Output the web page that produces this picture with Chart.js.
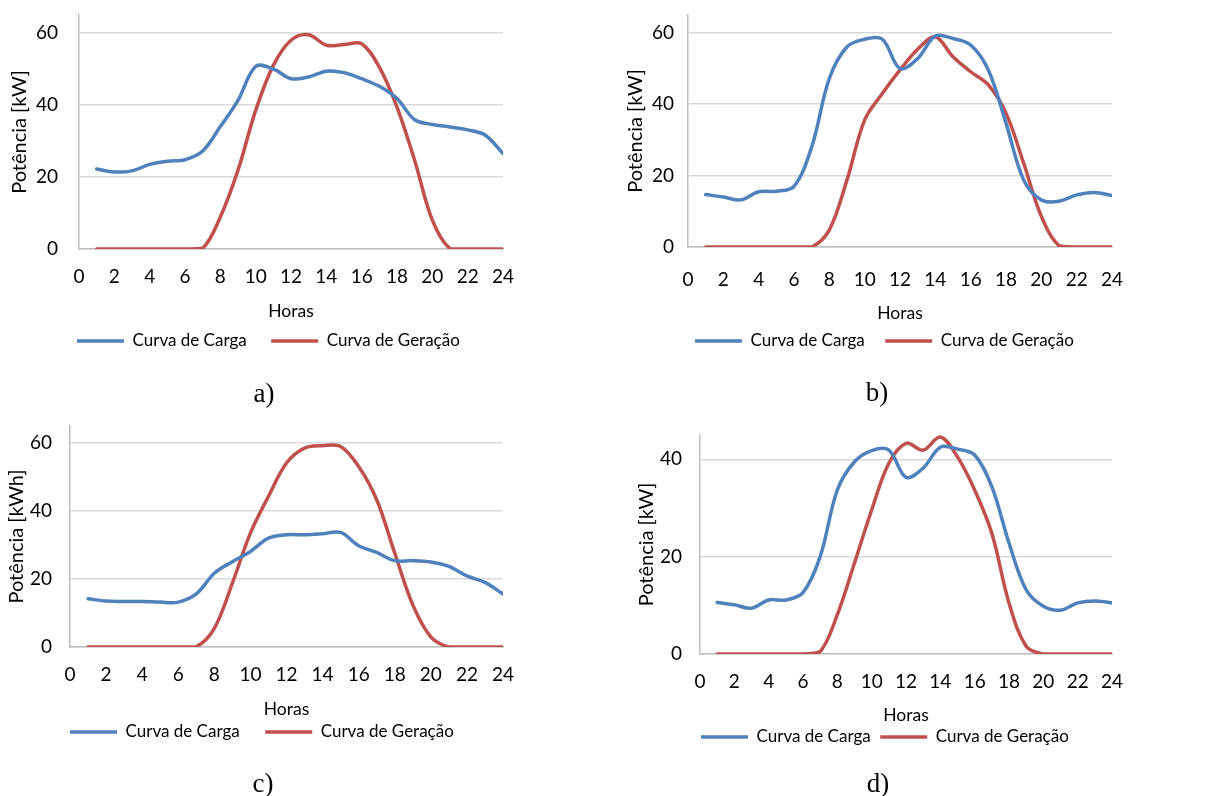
<!DOCTYPE html>
<html>
<head>
<meta charset="utf-8">
<script src="https://cdn.jsdelivr.net/npm/chart.js@4.4.1/dist/chart.umd.min.js"></script>
<style>
    html, body { margin: 0; padding: 0; background: #fff; }
    body { width: 1213px; height: 796px; position: relative; overflow: hidden; }
    canvas { position: absolute; left: 0; top: 0; pointer-events: none; }
    .rotulo { position: absolute; font-family: "Liberation Serif", "Times New Roman", serif; font-size: 27px; color: #000; transform: translate(-50%, -50%); }
</style>
</head>
<body>
<canvas id="graficoA" width="1213" height="796"></canvas>
<canvas id="graficoB" width="1213" height="796"></canvas>
<canvas id="graficoC" width="1213" height="796"></canvas>
<canvas id="graficoD" width="1213" height="796"></canvas>

<div class="rotulo" style="left:264px; top:393px;">a)</div>
<div class="rotulo" style="left:877px; top:392px;">b)</div>
<div class="rotulo" style="left:263px; top:783px;">c)</div>
<div class="rotulo" style="left:878px; top:783px;">d)</div>

<script>
// dados (hora 1 a 24)
var horas = [1, 2, 3, 4, 5, 6, 7, 8, 9, 10, 11, 12, 13, 14, 15, 16, 17, 18, 19, 20, 21, 22, 23, 24];
var xTicks = [0, 2, 4, 6, 8, 10, 12, 14, 16, 18, 20, 22, 24];
var yTicks60 = [0, 20, 40, 60];
var yTicks40 = [0, 20, 40];

// a)
var cargaA = [22.2, 21.4, 21.7, 23.5, 24.4, 24.8, 27.2, 34, 41.3, 50.7, 50, 47.3, 47.8, 49.4, 49, 47.3, 45.2, 41.8, 35.9, 34.6, 33.9, 33.1, 31.6, 26.5];
var geracaoA = [0, 0, 0, 0, 0, 0, 0.2, 8.9, 21.9, 38.5, 51, 58, 59.5, 56.6, 56.8, 57, 50.5, 39.4, 24.6, 8, 0.1, 0, 0, 0];

// b)
var cargaB = [14.7, 14, 13.2, 15.5, 15.6, 17, 28, 47.2, 56.1, 58.2, 58.2, 50, 52.8, 59.1, 58.4, 56.6, 49.6, 34.7, 18.8, 13.2, 12.8, 14.6, 15.3, 14.4];
var geracaoB = [0, 0, 0, 0, 0, 0, 0, 4.8, 18.8, 35.6, 43, 49.6, 55.4, 58.9, 53.3, 49.1, 45.4, 37.5, 23.5, 8.6, 0.4, 0, 0, 0];

// c)
var cargaC = [14.2, 13.5, 13.4, 13.4, 13.2, 13.2, 15.6, 21.7, 25.1, 28.1, 32, 33, 33, 33.3, 33.7, 29.8, 27.8, 25.4, 25.4, 25, 23.7, 20.9, 19, 15.6];
var geracaoC = [0, 0, 0, 0, 0, 0, 0.1, 5.5, 18.8, 33.5, 44.3, 54.1, 58.5, 59.2, 59, 53.1, 43.3, 27.6, 12.4, 3, 0, 0, 0, 0];

// d)
var cargaD = [10.6, 10.1, 9.4, 11.1, 11.1, 12.6, 20, 33.7, 39.5, 41.8, 41.9, 36.3, 38.2, 42.5, 42.1, 40.9, 34.4, 22.8, 13.2, 9.8, 9, 10.5, 10.9, 10.5];
var geracaoD = [0, 0, 0, 0, 0, 0, 0.5, 8.1, 18.7, 29.6, 39.2, 43.3, 41.9, 44.6, 40.5, 33.7, 24.8, 10.5, 1.6, 0, 0, 0, 0, 0];

var azul = '#4F81BD';
var vermelho = '#C0504D';
var fonte = 'Lato';
var legendaFonte = 17;
var tickFonte = 19;
var tituloYFonte = 20;
var horasFonte = 17.5;

// p = posicoes em pixels da pagina de cada painel
function montarGrafico(id, carga, geracao, yTicks, yMax, yTitulo, p) {
    var legTop = p.legY - p.pad - legendaFonte / 2;

    var ctx = document.getElementById(id).getContext('2d');
    new Chart(ctx, {
        type: 'line',
        data: {
            labels: horas,
            datasets: [{
                label: 'Curva de Carga',
                data: carga,
                borderColor: azul,
                backgroundColor: azul,
                borderWidth: 3.5,
                borderCapStyle: 'round',
                borderJoinStyle: 'round',
                pointRadius: 0,
                tension: 0.35,
                fill: false
            }, {
                label: 'Curva de Geração',
                data: geracao,
                borderColor: vermelho,
                backgroundColor: vermelho,
                borderWidth: 3.5,
                borderCapStyle: 'round',
                borderJoinStyle: 'round',
                pointRadius: 0,
                tension: 0.35,
                fill: false
            }]
        },
        options: {
            responsive: false,
            animation: false,
            layout: {
                padding: { left: 0, top: p.y0, right: 1213 - p.x1, bottom: 796 - (p.legY + legendaFonte / 2 + 10) }
            },
            plugins: {
                legend: {
                    position: 'bottom',
                    align: 'start',
                    labels: {
                        usePointStyle: true,
                        pointStyle: 'line',
                        pointStyleWidth: 47,
                        padding: p.pad,
                        color: '#000',
                        font: { family: fonte, size: legendaFonte }
                    }
                },
                tooltip: { enabled: false }
            },
            scales: {
                x: {
                    type: 'linear',
                    min: 0,
                    max: 24,
                    afterBuildTicks: function (s) { s.ticks = xTicks.map(function (v) { return { value: v }; }); },
                    ticks: { padding: p.tickY - p.y1 - tickFonte * 0.6, color: '#000', font: { family: fonte, size: tickFonte } },
                    grid: { display: false, drawTicks: false },
                    border: { color: '#BFBFBF', width: 1.5 },
                    title: {
                        display: true,
                        text: 'Horas',
                        color: '#000',
                        font: { family: fonte, size: horasFonte },
                        padding: { top: 0, bottom: legTop - horasFonte * 0.6 - p.horasY }
                    },
                    afterFit: function (s) { s.height = legTop - p.y1; }
                },
                y: {
                    min: 0,
                    max: yMax,
                    afterBuildTicks: function (s) { s.ticks = yTicks.map(function (v) { return { value: v }; }); },
                    ticks: { padding: 0, color: '#000', font: { family: fonte, size: tickFonte } },
                    // o espaco entre numero e eixo vem do tickLength (marca invisivel)
                    grid: { color: '#D9D9D9', lineWidth: 1.5, drawTicks: true, tickLength: p.gap, tickColor: 'rgba(0,0,0,0)' },
                    border: { color: '#BFBFBF', width: 1.5 },
                    title: {
                        display: true,
                        text: yTitulo,
                        color: '#000',
                        font: { family: fonte, size: tituloYFonte },
                        padding: { top: p.titleX - tituloYFonte * 0.6, bottom: 0 }
                    },
                    afterFit: function (s) { s.width = p.x0; }
                }
            }
        },
        plugins: [{
            id: 'posLegenda',
            afterLayout: function (chart) {
                chart.legend.left = p.legX - p.pad;
                chart.legend.right = 1213;
            }
        }]
    });
}

montarGrafico('graficoA', cargaA, geracaoA, yTicks60, 65, 'Potência [kW]',
    { x0: 79, x1: 503, y0: 15, y1: 249, legX: 77, pad: 24.5, legY: 341, horasY: 311, tickY: 277, titleX: 20, gap: 21 });

montarGrafico('graficoB', cargaB, geracaoB, yTicks60, 65, 'Potência [kW]',
    { x0: 688, x1: 1112, y0: 15, y1: 247, legX: 695, pad: 20.5, legY: 341, horasY: 313, tickY: 280, titleX: 636, gap: 14 });

montarGrafico('graficoC', cargaC, geracaoC, yTicks60, 65, 'Potência [kWh]',
    { x0: 70, x1: 503, y0: 426, y1: 647, legX: 70, pad: 25.5, legY: 732, horasY: 709, tickY: 675, titleX: 17, gap: 18 });

montarGrafico('graficoD', cargaD, geracaoD, yTicks40, 45, 'Potência [kW]',
    { x0: 700, x1: 1112, y0: 435, y1: 654, legX: 701, pad: 9.5, legY: 737, horasY: 715, tickY: 682, titleX: 647, gap: 18 });
</script>
</body>
</html>
